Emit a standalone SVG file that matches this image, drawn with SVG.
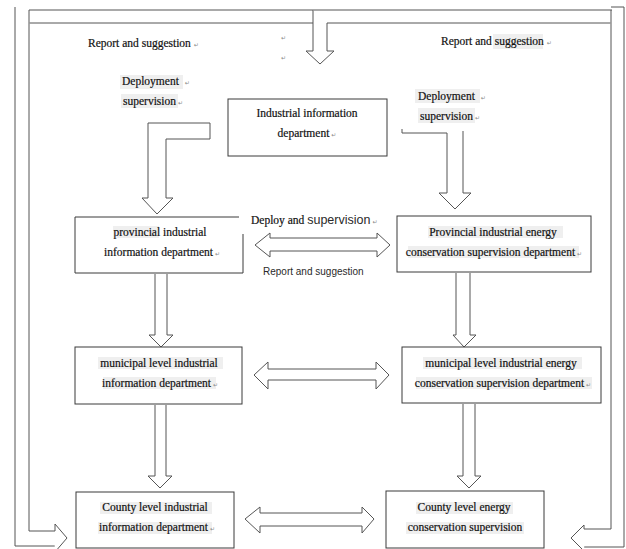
<svg xmlns="http://www.w3.org/2000/svg" width="626" height="549" viewBox="0 0 626 549">
<style>
.bg{fill:#ffffff}
.box{fill:#ffffff;stroke:#3a3a3a;stroke-width:1}
.ln{fill:none;stroke:#555555;stroke-width:1}
.arr{fill:#ffffff;stroke:#555555;stroke-width:1;stroke-linejoin:miter}
.t{font-family:"Liberation Serif","Times New Roman",serif;font-size:11.5px;fill:#111111;stroke:#111111;stroke-width:0.2}
.s{font-family:"Liberation Sans",Arial,sans-serif;fill:#2a2a2a;stroke:none}
.m{font-family:"DejaVu Sans",sans-serif;font-size:6px;fill:#8a8a8a;stroke:none}
.sh{fill:#efefef}
</style>
<rect class="bg" x="0" y="0" width="626" height="549"/>

<g id="shading">
<rect class="sh" x="120" y="75" width="63" height="14"/>
<rect class="sh" x="121" y="94" width="57" height="14"/>
<rect class="sh" x="493" y="34" width="50" height="15"/>
<rect class="sh" x="415" y="89" width="65" height="14"/>
<rect class="sh" x="418" y="108" width="57" height="15"/>
</g>

<g id="connectors">
<path class="ln" d="M29,10 H612"/>
<path class="ln" d="M29,23 H313"/>
<path class="ln" d="M327,23 H611"/>
<path class="ln" d="M15,7 V546 H60"/>
<path class="arr" d="M29,10 V531 H55 V524 L67,538 L55,552"/>
<path class="ln" d="M611,7 H624 V547 H580"/>
<path class="arr" d="M611,10 V529 H584 V525 L571,538 L584,551"/>
<path class="arr" d="M313,10 V51 H306 L320,64 L334,51 H327 V23"/>
<path class="arr" d="M148,123 H210 V139 H166 V198 H173 L157,214 L142,198 H148 Z"/>
<path class="arr" d="M402,129 V133 H447 V193 H439 L455,209 L471,193 H463 V131"/>
<path class="arr" d="M155,274 V335 H149 L161,347 L173,335 H167 V274"/>
<path class="arr" d="M456,273 V335 H453 L464,347 L476,335 H470 V273"/>
<path class="arr" d="M155,405 V476 H148 L160,488 L172,476 H166 V405"/>
<path class="arr" d="M463,404 V476 H457 L469,488 L481,476 H475 V404"/>
<path class="arr" d="M255,245 L270,233 V238 H377 V233 L390,245 L377,257 V251 H270 V257 Z"/>
<path class="arr" d="M254,375 L268,362 V369 H376 V362 L389,375 L376,389 V380 H268 V389 Z"/>
<path class="arr" d="M245,519 L260,507 V513 H362 V507 L374,519 L362,533 V526 H260 V533 Z"/>
</g>

<g id="labels">
<text class="t" x="88" y="47">Report and suggestion<tspan class="m" dx="3">↵</tspan></text>
<text class="m" x="281" y="40">↵</text>
<text class="m" x="281" y="60">↵</text>
<text class="t" x="122" y="85">Deployment <tspan class="m" dx="3">↵</tspan></text>
<text class="t" x="123" y="105">supervision<tspan class="m" dx="2">↵</tspan></text>
<text class="t" x="441" y="45">Report and suggestion<tspan class="m" dx="3">↵</tspan></text>
<text class="t" x="418" y="100">Deployment <tspan class="m" dx="3">↵</tspan></text>
<text class="t" x="420" y="120">supervision<tspan class="m" dx="2">↵</tspan></text>
<text class="t" x="251" y="224">Deploy and <tspan class="s" font-size="12.5">supervision</tspan><tspan class="m" dx="2">↵</tspan></text>
<text class="s" x="263" y="275" font-size="10">Report and suggestion</text>
</g>

<g id="industrial-information-department">
<rect class="box" x="228" y="99" width="159" height="57"/>
<text class="t" x="307" y="117" text-anchor="middle">Industrial information</text>
<text class="t" x="307" y="137" text-anchor="middle">department<tspan class="m" dx="2">↵</tspan></text>
</g>

<g id="provincial-industrial-information-department">
<path class="box" d="M239,217 H75 V273 H243 V234"/>
<rect class="sh" x="113" y="226" width="46" height="12"/>
<text class="t" x="160" y="236" text-anchor="middle">provincial industrial</text>
<text class="t" x="162" y="256" text-anchor="middle">information department<tspan class="m" dx="2">↵</tspan></text>
</g>

<g id="provincial-energy-conservation-supervision-department">
<rect class="box" x="397" y="216" width="194" height="56"/>
<rect class="sh" x="428" y="226" width="135" height="12"/>
<rect class="sh" x="408" y="246" width="171" height="12"/>
<text class="t" x="493" y="236" text-anchor="middle">Provincial industrial energy</text>
<text class="t" x="494" y="256" text-anchor="middle">conservation supervision department<tspan class="m" dx="2">↵</tspan></text>
</g>

<g id="municipal-industrial-information-department">
<rect class="box" x="75" y="347" width="167" height="57"/>
<rect class="sh" x="98" y="357" width="125" height="12"/>
<rect class="sh" x="103" y="377" width="113" height="12"/>
<text class="t" x="159" y="367" text-anchor="middle">municipal level industrial</text>
<text class="t" x="160" y="387" text-anchor="middle">information department<tspan class="m" dx="2">↵</tspan></text>
</g>

<g id="municipal-energy-conservation-supervision-department">
<rect class="box" x="402" y="347" width="199" height="56"/>
<rect class="sh" x="423" y="357" width="159" height="12"/>
<rect class="sh" x="416" y="377" width="176" height="12"/>
<text class="t" x="501" y="367" text-anchor="middle">municipal level industrial energy</text>
<text class="t" x="503" y="387" text-anchor="middle">conservation supervision department<tspan class="m" dx="2">↵</tspan></text>
</g>

<g id="county-industrial-information-department">
<rect class="box" x="76" y="492" width="158" height="56"/>
<rect class="sh" x="100" y="502" width="112" height="12"/>
<rect class="sh" x="98" y="522" width="114" height="12"/>
<text class="t" x="155" y="511" text-anchor="middle">County level industrial</text>
<text class="t" x="157" y="531" text-anchor="middle">information department<tspan class="m" dx="2">↵</tspan></text>
</g>

<g id="county-energy-conservation-supervision">
<rect class="box" x="386" y="491" width="158" height="57"/>
<rect class="sh" x="416" y="502" width="97" height="12"/>
<rect class="sh" x="406" y="522" width="118" height="12"/>
<text class="t" x="464" y="511" text-anchor="middle">County level energy</text>
<text class="t" x="465" y="531" text-anchor="middle">conservation supervision</text>
</g>
</svg>
